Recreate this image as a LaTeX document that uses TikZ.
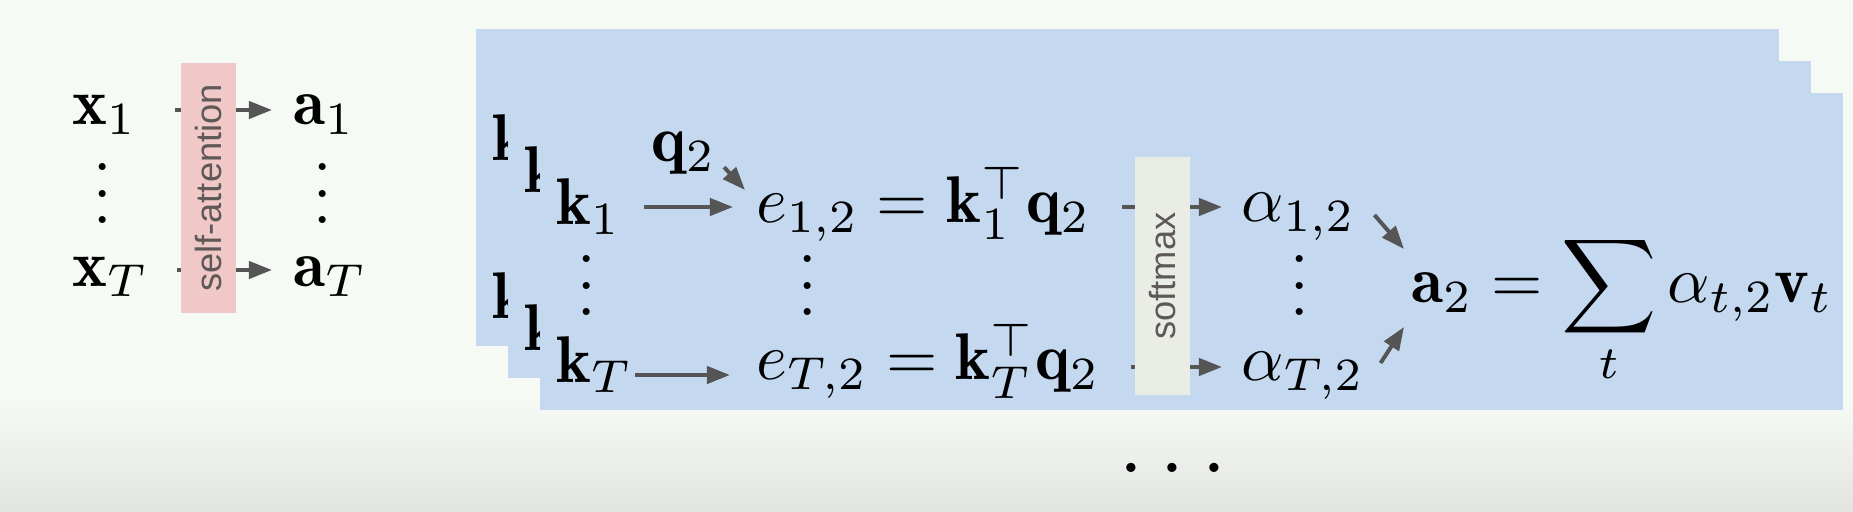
\documentclass[tikz,border=0pt]{standalone}
\usepackage{fontspec}
\usepackage{amsmath}
\newfontfamily\boxfont{Liberation Sans}
\usetikzlibrary{arrows.meta, calc}
\definecolor{panelblue}{RGB}{196, 216, 240}
\definecolor{attnpink}{RGB}{241, 200, 200}
\definecolor{softgray}{RGB}{234, 236, 230}
\definecolor{arrowgray}{RGB}{85, 85, 85}
\definecolor{boxtext}{RGB}{95, 88, 88}
\definecolor{bgtop}{RGB}{246, 250, 245}
\definecolor{bgbot}{RGB}{226, 228, 224}
\tikzstyle{term} = [anchor=base west, inner sep=0pt]
\tikzstyle{dotcol} = [anchor=base, inner sep=0pt]
\tikzstyle{flow} = [draw=arrowgray, line width=0.6pt, -{Triangle[length=3.5pt, width=2.6pt]}]
\tikzstyle{opbox} = [rotate=90, inner sep=0pt, minimum height=8.3pt, text=boxtext,
                     font=\boxfont\fontsize{5.5pt}{6pt}\selectfont]
\begin{document}
\begin{tikzpicture}[x=0.1515pt, y=-0.1515pt]
\useasboundingbox (0,0) rectangle (1853,512);
\fill[bgtop] (0,0) rectangle (1853,512);
\shade[top color=bgtop, bottom color=bgbot] (0,400) rectangle (1853,512);
\node[term] (x1) at (71,125) {$\mathbf{x}_1$};
\node[term] (xT) at (71,287) {$\mathbf{x}_T$};
\node[term] (a1) at (292,125) {$\mathbf{a}_1$};
\node[term] (aT) at (292,287) {$\mathbf{a}_T$};
\node[dotcol] (xdots) at (103,223.5) {$\vdots$};
\node[dotcol] (adots) at (323,223.5) {$\vdots$};
\draw[flow] ([shift={(37,-15)}]x1.base east) -- ([shift={(-20,-15)}]a1.base west);
\draw[flow] ([shift={(27,-17)}]xT.base east) -- ([shift={(-20,-17)}]aT.base west);
\node[opbox, fill=attnpink, minimum width=37.9pt] (attn) at (208.5,188) {self-attention};
\foreach \s/\p in {64/back, 32/mid, 0/front} {
  \fill[panelblue] ({540-\s},{93-\s}) rectangle ++(1303,317);
  \node[term] (k1-\p) at ({555-\s},{225-\s}) {$\mathbf{k}_1$};
  \node[term] (kT-\p) at ({555-\s},{383-\s}) {$\mathbf{k}_T$};
}
\node[term] (q2) at (650,162) {$\mathbf{q}_2$};
\node[term] (e12) at (755,223) {$e_{1,2} = \mathbf{k}_1^\top\mathbf{q}_2$};
\node[term] (eT2) at (755,380) {$e_{T,2} = \mathbf{k}_T^\top\mathbf{q}_2$};
\node[dotcol] (kdots) at (587,315.5) {$\vdots$};
\node[dotcol] (edots) at (808,315.5) {$\vdots$};
\node[term] (al12) at (1240,222) {$\alpha_{1,2}$};
\node[term] (alT2) at (1240,381) {$\alpha_{T,2}$};
\node[dotcol] (aldots) at (1300,315.5) {$\vdots$};
\node[term] (a2) at (1410,303) {$\displaystyle \mathbf{a}_2 = \sum_t \alpha_{t,2}\mathbf{v}_t$};
\draw[flow] ([shift={(22,-18)}]k1-front.base east) -- ([shift={(-22,-16)}]e12.base west);
\draw[flow] ([shift={(1,-8)}]kT-front.base east) -- ([shift={(-25,-5)}]eT2.base west);
\draw[flow] ([shift={(7,-9)}]q2.south east) -- ([shift={(-10,-33)}]e12.base west);
\draw[flow] ([shift={(30,-16)}]e12.base east) -- ([shift={(-18,-15)}]al12.base west);
\draw[flow] ([shift={(30,-13)}]eT2.base east) -- ([shift={(-18,-14)}]alT2.base west);
\node[opbox, fill=softgray, minimum width=36.1pt] (smax) at (1162.5,276) {softmax};
\draw[flow] ([shift={(18,-7)}]al12.base east) -- ([shift={(-6,-54)}]a2.base west);
\draw[flow] ([shift={(15,-18)}]alT2.base east) -- ([shift={(-6,24)}]a2.base west);
\node[dotcol, font=\Large] (more) at (1173,473) {$\ldots$};
\end{tikzpicture}
\end{document}
